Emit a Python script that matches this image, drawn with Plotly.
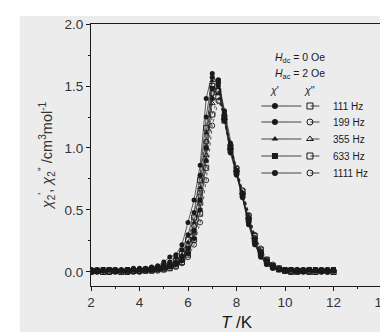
import plotly.graph_objects as go

# ---- data ----
T = [2.0, 2.25, 2.5, 2.75, 3.0, 3.25, 3.5, 3.75, 4.0, 4.25, 4.5, 4.75, 5.0, 5.25, 5.5, 5.75,
     6.0, 6.25, 6.5, 6.75, 7.0, 7.25, 7.5, 7.75, 8.0, 8.25, 8.5, 8.75, 9.0, 9.25, 9.5, 9.75,
     10.0, 10.25, 10.5, 10.75, 11.0, 11.25, 11.5, 11.75, 12.0]

freq_labels = ["111 Hz", "199 Hz", "355 Hz", "633 Hz", "1111 Hz"]

chi1_111 = [0.02, 0.01, 0.02, 0.02, 0.01, 0.02, 0.02, 0.03, 0.02, 0.03, 0.04, 0.05, 0.08, 0.12, 0.14, 0.22,
            0.40, 0.58, 0.86, 1.40, 1.60, 1.50, 1.22, 0.96, 0.78, 0.60, 0.38, 0.22, 0.12, 0.06, 0.03, 0.02,
            0.02, 0.02, 0.01, 0.02, 0.02, 0.01, 0.02, 0.01, 0.02]
chi1_199 = [0.01, 0.02, 0.01, 0.02, 0.02, 0.01, 0.02, 0.02, 0.03, 0.02, 0.03, 0.04, 0.06, 0.08, 0.12, 0.18,
            0.30, 0.48, 0.78, 1.25, 1.57, 1.52, 1.24, 0.98, 0.79, 0.60, 0.39, 0.23, 0.12, 0.06, 0.03, 0.02,
            0.01, 0.02, 0.02, 0.01, 0.02, 0.02, 0.01, 0.02, 0.02]
chi1_355 = [0.02, 0.02, 0.01, 0.01, 0.02, 0.02, 0.01, 0.02, 0.02, 0.03, 0.03, 0.04, 0.05, 0.06, 0.09, 0.14,
            0.24, 0.40, 0.68, 1.12, 1.54, 1.53, 1.26, 1.00, 0.80, 0.61, 0.40, 0.24, 0.13, 0.07, 0.03, 0.02,
            0.02, 0.01, 0.02, 0.02, 0.01, 0.02, 0.02, 0.01, 0.02]
chi1_633 = [0.01, 0.01, 0.02, 0.02, 0.01, 0.01, 0.02, 0.02, 0.02, 0.02, 0.03, 0.03, 0.04, 0.05, 0.07, 0.11,
            0.19, 0.33, 0.58, 1.00, 1.48, 1.54, 1.28, 1.02, 0.81, 0.62, 0.41, 0.25, 0.14, 0.07, 0.04, 0.02,
            0.02, 0.02, 0.01, 0.01, 0.02, 0.02, 0.01, 0.01, 0.02]
chi1_1111 = [0.02, 0.01, 0.01, 0.02, 0.02, 0.01, 0.01, 0.02, 0.02, 0.02, 0.02, 0.03, 0.03, 0.04, 0.06, 0.09,
             0.15, 0.27, 0.50, 0.90, 1.40, 1.55, 1.30, 1.04, 0.82, 0.63, 0.42, 0.26, 0.15, 0.08, 0.04, 0.02,
             0.01, 0.02, 0.02, 0.01, 0.02, 0.01, 0.02, 0.02, 0.01]

chi2_111 = [0.00, 0.01, 0.00, 0.01, 0.01, 0.00, 0.01, 0.01, 0.01, 0.02, 0.02, 0.03, 0.04, 0.06, 0.09, 0.15,
            0.26, 0.44, 0.74, 1.16, 1.50, 1.46, 1.22, 0.98, 0.80, 0.62, 0.42, 0.26, 0.15, 0.08, 0.04, 0.02,
            0.01, 0.01, 0.00, 0.01, 0.01, 0.00, 0.01, 0.01, 0.00]
chi2_199 = [0.01, 0.00, 0.01, 0.00, 0.01, 0.01, 0.00, 0.01, 0.01, 0.01, 0.02, 0.02, 0.03, 0.05, 0.07, 0.12,
            0.21, 0.37, 0.64, 1.05, 1.44, 1.46, 1.23, 0.99, 0.81, 0.63, 0.43, 0.27, 0.16, 0.09, 0.05, 0.02,
            0.01, 0.00, 0.01, 0.01, 0.00, 0.01, 0.01, 0.00, 0.01]
chi2_355 = [0.00, 0.00, 0.01, 0.01, 0.00, 0.01, 0.01, 0.00, 0.01, 0.01, 0.01, 0.02, 0.03, 0.04, 0.06, 0.10,
            0.17, 0.31, 0.55, 0.94, 1.36, 1.44, 1.24, 1.00, 0.82, 0.64, 0.44, 0.28, 0.17, 0.09, 0.05, 0.03,
            0.01, 0.01, 0.00, 0.00, 0.01, 0.01, 0.00, 0.01, 0.01]
chi2_633 = [0.01, 0.01, 0.00, 0.00, 0.01, 0.00, 0.00, 0.01, 0.01, 0.01, 0.01, 0.02, 0.02, 0.03, 0.05, 0.08,
            0.14, 0.26, 0.47, 0.84, 1.27, 1.41, 1.25, 1.01, 0.83, 0.65, 0.45, 0.29, 0.18, 0.10, 0.05, 0.03,
            0.01, 0.00, 0.01, 0.01, 0.00, 0.00, 0.01, 0.01, 0.00]
chi2_1111 = [0.00, 0.01, 0.01, 0.00, 0.00, 0.01, 0.01, 0.00, 0.00, 0.01, 0.01, 0.01, 0.02, 0.03, 0.04, 0.07,
             0.12, 0.22, 0.40, 0.74, 1.18, 1.38, 1.26, 1.02, 0.84, 0.66, 0.46, 0.30, 0.19, 0.10, 0.06, 0.03,
             0.01, 0.01, 0.01, 0.00, 0.01, 0.01, 0.00, 0.00, 0.01]

chi1_series = [chi1_111, chi1_199, chi1_355, chi1_633, chi1_1111]
chi2_series = [chi2_111, chi2_199, chi2_355, chi2_633, chi2_1111]

x_ticks = [2, 4, 6, 8, 10, 12, 14]
y_ticks = [0.0, 0.5, 1.0, 1.5, 2.0]

# ---- style ----
filled_syms = ["circle", "circle", "triangle-up", "square", "circle"]
open_syms = ["square-open", "circle-open", "triangle-up-open", "square-open", "circle-open"]
INK = "#1a1a1a"
BG = "#ececec"
FONT = "Liberation Sans"

fig = go.Figure()

for i in range(5):
    fig.add_trace(go.Scatter(
        x=T, y=chi2_series[i], mode="lines+markers", showlegend=False,
        line=dict(color=INK, width=0.7, dash="dot"),
        marker=dict(symbol=open_syms[i], size=5, color=INK, line=dict(width=0.9, color=INK)),
    ))
for i in range(5):
    fig.add_trace(go.Scatter(
        x=T, y=chi1_series[i], mode="lines+markers", showlegend=False,
        line=dict(color=INK, width=0.7),
        marker=dict(symbol=filled_syms[i], size=5, color=INK),
    ))

# ---- hand-made legend on a pixel-mapped overlay axis ----
row_y = [98, 114, 131, 148, 165]
for i in range(5):
    fig.add_trace(go.Scatter(
        x=[258, 272, 290], y=[row_y[i]] * 3, xaxis="x2", yaxis="y2", mode="lines",
        line=dict(color=INK, width=0.8), showlegend=False, hoverinfo="skip"))
    fig.add_trace(go.Scatter(
        x=[290, 308, 322], y=[row_y[i]] * 3, xaxis="x2", yaxis="y2", mode="lines",
        line=dict(color=INK, width=0.8, dash="dash"), showlegend=False, hoverinfo="skip"))
    fig.add_trace(go.Scatter(
        x=[272], y=[row_y[i]], xaxis="x2", yaxis="y2", mode="markers",
        marker=dict(symbol=filled_syms[i], size=6, color=INK), showlegend=False, hoverinfo="skip"))
    fig.add_trace(go.Scatter(
        x=[308], y=[row_y[i]], xaxis="x2", yaxis="y2", mode="markers",
        marker=dict(symbol=open_syms[i], size=6, color=INK, line=dict(width=1, color=INK)),
        showlegend=False, hoverinfo="skip"))
    fig.add_annotation(x=330, y=row_y[i], xref="x2", yref="y2", text=freq_labels[i],
                       showarrow=False, xanchor="left", yanchor="middle",
                       font=dict(size=10, color=INK, family=FONT))

fig.add_annotation(x=270, y=50, xref="x2", yref="y2",
                   text="<i>H</i><sub>dc</sub> = 0 Oe", showarrow=False,
                   xanchor="left", yanchor="middle", font=dict(size=10.5, color=INK, family=FONT))
fig.add_annotation(x=270, y=66, xref="x2", yref="y2",
                   text="<i>H</i><sub>ac</sub> = 2 Oe", showarrow=False,
                   xanchor="left", yanchor="middle", font=dict(size=10.5, color=INK, family=FONT))
fig.add_annotation(x=272, y=82, xref="x2", yref="y2", text="<i>χ</i>'", showarrow=False,
                   xanchor="center", yanchor="middle", font=dict(size=10.5, color=INK, family=FONT))
fig.add_annotation(x=308, y=82, xref="x2", yref="y2", text="<i>χ</i>''", showarrow=False,
                   xanchor="center", yanchor="middle", font=dict(size=10.5, color=INK, family=FONT))

# white margins of the scanned page (top strip and left strip)
fig.add_shape(type="rect", xref="paper", yref="paper", x0=-0.3, x1=1.1, y0=1.031, y1=1.2,
              fillcolor="white", line=dict(width=0), layer="below")
fig.add_shape(type="rect", xref="paper", yref="paper", x0=-0.3, x1=-0.245, y0=-0.4, y1=1.2,
              fillcolor="white", line=dict(width=0), layer="below")

axis_common = dict(showline=True, linecolor=INK, linewidth=1.1, mirror=True,
                   ticks="outside", ticklen=4, tickwidth=1, tickcolor=INK,
                   showgrid=False, zeroline=False,
                   tickfont=dict(size=13.5, color="#333333", family=FONT))

fig.update_layout(
    width=388, height=332,
    margin=dict(l=83, r=6, t=16, b=54),
    paper_bgcolor=BG, plot_bgcolor=BG,
    font=dict(family=FONT, color=INK),
    xaxis=dict(range=[2, 14], tickvals=x_ticks, ticktext=[str(v) for v in x_ticks],
               ticklabeloverflow="allow",
               minor=dict(ticks="outside", ticklen=2, dtick=1, tickcolor=INK),
               title=dict(text="<i>T</i> /K", font=dict(size=17, color=INK, family=FONT), standoff=6),
               **axis_common),
    yaxis=dict(range=[-0.113, 2.0], tickvals=y_ticks, ticktext=[f"{v:.1f}" for v in y_ticks],
               minor=dict(ticks="outside", ticklen=2, dtick=0.25, tickcolor=INK),
               title=dict(text="<i>χ</i><sub>2</sub><sup>'</sup>, <i>χ</i><sub>2</sub><sup>''</sup> /cm<sup>3</sup>mol<sup>-1</sup>",
                          font=dict(size=14.5, color="#333333", family=FONT), standoff=8),
               **axis_common),
    xaxis2=dict(range=[83, 382], overlaying="x", visible=False, fixedrange=True),
    yaxis2=dict(range=[278, 16], overlaying="y", visible=False, fixedrange=True),
)

fig.write_html("out.html")
